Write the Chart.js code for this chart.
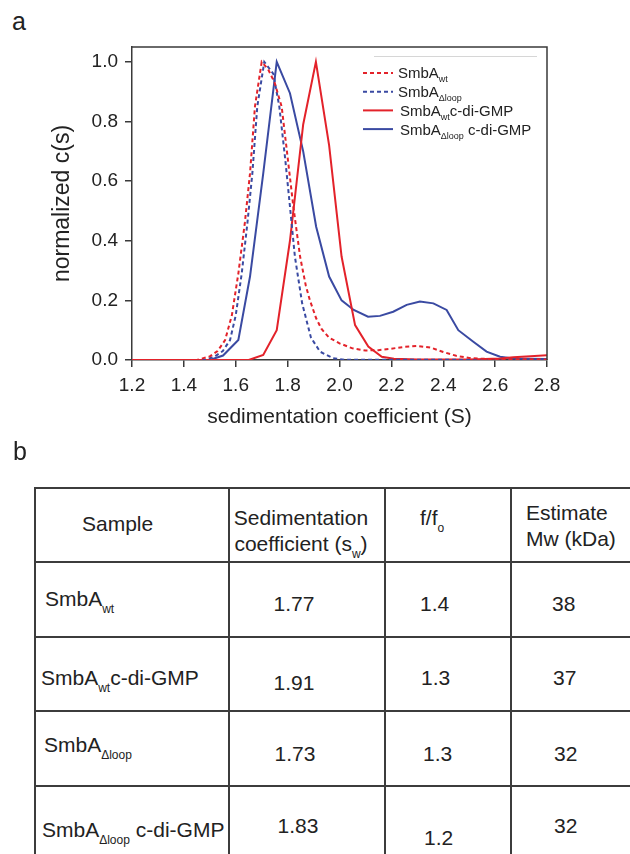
<!DOCTYPE html>
<html lang="en">
<head>
<meta charset="UTF-8">
<title>SmbA sedimentation</title>
<style>
  html, body { margin: 0; padding: 0; background: #fff; }
  body { width: 630px; height: 854px; overflow: hidden; position: relative;
         font-family: "Liberation Sans", Arial, sans-serif; color: #222; }
  #chartBox { position: absolute; left: 0; top: 0; width: 630px; height: 440px; }
  .panel { position: absolute; font-size: 25px; line-height: 25px; }
  table { position: absolute; left: 34px; top: 487px; width: 616px; border-collapse: collapse;
          table-layout: fixed; font-size: 21px; }
  td { border: 2px solid #3c3c3c; padding: 0; vertical-align: middle; white-space: nowrap; }
  td span.t { position: relative; display: inline-block; line-height: 26px; }
  sub { font-size: 12px; vertical-align: -7px; line-height: 0; }
</style>
</head>
<body>
<div class="panel" style="left:12px; top:9px;">a</div>
<div id="chartBox"><canvas id="myChart" width="630" height="440"></canvas></div>
<div class="panel" style="left:13px; top:439px;">b</div>
<table id="tbl"></table>

<script src="https://cdn.jsdelivr.net/npm/chart.js@4.4.1/dist/chart.umd.min.js"></script>
<script>
// ---- data ----
const xTickValues = [1.2, 1.4, 1.6, 1.8, 2.0, 2.2, 2.4, 2.6, 2.8];
const yTickValues = [0, 0.2, 0.4, 0.6, 0.8, 1.0];

// SmbA wt (red dashed)
const wtX = [1.20, 1.45, 1.50, 1.53, 1.559, 1.585, 1.61, 1.635, 1.655, 1.674, 1.70, 1.725, 1.75, 1.777, 1.80, 1.822, 1.848, 1.87, 1.886, 1.91, 1.93, 1.96, 2.00, 2.05, 2.10, 2.15, 2.20, 2.25, 2.30, 2.35, 2.40, 2.45, 2.50, 2.55, 2.60, 2.80];
const wtY = [0, 0, 0.012, 0.03, 0.067, 0.15, 0.29, 0.46, 0.626, 0.85, 1.0, 0.975, 0.93, 0.85, 0.68, 0.515, 0.347, 0.25, 0.20, 0.14, 0.105, 0.075, 0.056, 0.039, 0.032, 0.033, 0.038, 0.044, 0.047, 0.042, 0.027, 0.014, 0.007, 0.004, 0.003, 0.002];

// SmbA delta-loop (blue dashed)
const loopX = [1.20, 1.48, 1.52, 1.55, 1.578, 1.60, 1.623, 1.645, 1.664, 1.683, 1.71, 1.745, 1.768, 1.79, 1.809, 1.828, 1.856, 1.89, 1.925, 1.975, 2.02, 2.80];
const loopY = [0, 0, 0.012, 0.03, 0.067, 0.15, 0.29, 0.46, 0.626, 0.85, 1.0, 0.96, 0.85, 0.68, 0.515, 0.347, 0.19, 0.075, 0.028, 0.006, 0.001, 0];

// SmbA wt + c-di-GMP (red solid)
const wtGmpX = [1.20, 1.65, 1.706, 1.758, 1.809, 1.86, 1.909, 1.96, 2.008, 2.06, 2.111, 2.163, 2.21, 2.30, 2.50, 2.62, 2.67, 2.72, 2.80];
const wtGmpY = [0, 0, 0.017, 0.10, 0.40, 0.79, 1.0, 0.72, 0.347, 0.117, 0.045, 0.011, 0.004, 0.002, 0.002, 0.005, 0.009, 0.012, 0.016];

// SmbA delta-loop + c-di-GMP (blue solid)
const loopGmpX = [1.20, 1.50, 1.551, 1.61, 1.655, 1.706, 1.758, 1.809, 1.86, 1.91, 1.96, 2.008, 2.055, 2.11, 2.156, 2.207, 2.259, 2.31, 2.362, 2.413, 2.458, 2.516, 2.567, 2.619, 2.67, 2.72, 2.80];
const loopGmpY = [0, 0, 0.015, 0.067, 0.28, 0.626, 1.0, 0.895, 0.70, 0.447, 0.28, 0.20, 0.168, 0.145, 0.148, 0.162, 0.185, 0.196, 0.19, 0.168, 0.10, 0.061, 0.028, 0.011, 0.005, 0.004, 0.003];

// legend names: [main, subscript, rest]
const seriesNames = [
  ['SmbA', 'wt', ''],
  ['SmbA', '\u0394loop', ''],
  ['SmbA', 'wt', 'c-di-GMP'],
  ['SmbA', '\u0394loop', ' c-di-GMP']
];

// table b
const tableHeader = ['Sample', 'Sedimentation<br>coefficient (s<sub>w</sub>)', 'f/f<sub>o</sub>', 'Estimate<br>Mw (kDa)'];
const tableSamples = [['SmbA', 'wt', ''], ['SmbA', 'wt', 'c-di-GMP'], ['SmbA', '\u0394loop', ''], ['SmbA', '\u0394loop', ' c-di-GMP']];
const tableSw = ['1.77', '1.91', '1.73', '1.83'];
const tableFf0 = ['1.4', '1.3', '1.3', '1.2'];
const tableMw = ['38', '37', '32', '32'];

// ---- chart ----
const RED = '#e3222a';
const BLUE = '#3a4aa2';
const AXIS = '#3a3a3a';

function pts(xs, ys) {
  return xs.map((x, i) => ({ x: x, y: ys[i] }));
}

const legendPlugin = {
  id: 'subLegend',
  afterDraw(chart) {
    const ctx = chart.ctx;
    const a = chart.chartArea;
    ctx.save();
    // frame top + right
    ctx.strokeStyle = AXIS;
    ctx.lineWidth = 1.5;
    ctx.beginPath();
    ctx.moveTo(a.left, a.top);
    ctx.lineTo(a.right, a.top);
    ctx.lineTo(a.right, a.bottom);
    ctx.stroke();
    // faint rule above legend
    ctx.strokeStyle = '#d6d6d6';
    ctx.lineWidth = 1;
    ctx.beginPath();
    ctx.moveTo(a.right - 173, a.top + 9.5);
    ctx.lineTo(a.right - 10, a.top + 9.5);
    ctx.stroke();

    chart.data.datasets.forEach((ds, i) => {
      const cy = a.top + 26 + i * 18.7;
      const x0 = a.right - 184;
      ctx.strokeStyle = ds.borderColor;
      ctx.lineWidth = 2;
      ctx.setLineDash(ds.borderDash || []);
      ctx.beginPath();
      ctx.moveTo(x0, cy);
      ctx.lineTo(x0 + 30, cy);
      ctx.stroke();
      ctx.setLineDash([]);

      const parts = seriesNames[i];
      let tx = x0 + 35 + (i > 1 ? 2 : 0);
      const base = cy + 5.4;
      ctx.fillStyle = '#222';
      ctx.textBaseline = 'alphabetic';
      ctx.textAlign = 'left';
      ctx.font = '15px "Liberation Sans", Arial, sans-serif';
      ctx.fillText(parts[0], tx, base);
      tx += ctx.measureText(parts[0]).width;
      ctx.font = '9px "Liberation Sans", Arial, sans-serif';
      ctx.fillText(parts[1], tx, base + 4);
      tx += ctx.measureText(parts[1]).width;
      ctx.font = '15px "Liberation Sans", Arial, sans-serif';
      ctx.fillText(parts[2], tx, base);
    });
    ctx.restore();
  }
};

const lineBase = { borderWidth: 2, pointRadius: 0, tension: 0, fill: false };

new Chart(document.getElementById('myChart'), {
  type: 'line',
  data: {
    datasets: [
      Object.assign({ label: 'SmbA wt', data: pts(wtX, wtY), borderColor: RED, borderDash: [4, 3] }, lineBase),
      Object.assign({ label: 'SmbA dloop', data: pts(loopX, loopY), borderColor: BLUE, borderDash: [4, 3] }, lineBase),
      Object.assign({ label: 'SmbA wt c-di-GMP', data: pts(wtGmpX, wtGmpY), borderColor: RED }, lineBase),
      Object.assign({ label: 'SmbA dloop c-di-GMP', data: pts(loopGmpX, loopGmpY), borderColor: BLUE }, lineBase)
    ]
  },
  options: {
    responsive: false,
    animation: false,
    layout: { padding: { top: 47, right: 83, left: 0, bottom: 0 } },
    plugins: { legend: { display: false }, tooltip: { enabled: false } },
    scales: {
      x: {
        type: 'linear',
        min: 1.2,
        max: 2.8,
        afterBuildTicks: (s) => { s.ticks = xTickValues.map(v => ({ value: v })); },
        afterFit: (s) => { s.height = 80; },
        border: { display: true, color: AXIS, width: 1.5 },
        grid: { drawOnChartArea: false, drawTicks: true, tickLength: 7, color: AXIS, lineWidth: 1.5 },
        ticks: {
          autoSkip: false, maxRotation: 0, padding: 7, color: '#222',
          font: { family: '"Liberation Sans", Arial, sans-serif', size: 19 },
          callback: (v) => Number(v).toFixed(1)
        },
        title: {
          display: true, text: 'sedimentation coefficient (S)', color: '#222',
          font: { family: '"Liberation Sans", Arial, sans-serif', size: 21 },
          padding: { top: 0, bottom: 10 }
        }
      },
      y: {
        min: 0,
        max: 1.05,
        afterBuildTicks: (s) => { s.ticks = yTickValues.map(v => ({ value: v })); },
        afterFit: (s) => { s.width = 132; },
        border: { display: true, color: AXIS, width: 1.5 },
        grid: { drawOnChartArea: false, drawTicks: true, tickLength: 7, color: AXIS, lineWidth: 1.5 },
        ticks: {
          padding: 7, color: '#222',
          font: { family: '"Liberation Sans", Arial, sans-serif', size: 19 },
          callback: (v) => Number(v).toFixed(1)
        },
        title: {
          display: true, text: 'normalized c(s)', color: '#222',
          font: { family: '"Liberation Sans", Arial, sans-serif', size: 23 },
          padding: { top: 49, bottom: 0 }
        }
      }
    }
  },
  plugins: [legendPlugin]
});

// ---- table ----
const colWidths = [194, 156, 126, 140];
const rowHeights = [74, 75, 74, 75, 80];
const colAlign = ['left', 'center', 'left', 'left'];
const colPad = [0, 0, 36, 0];
// fine nudges [dx, dy] per cell, to follow the figure's loose placement
const nudges = [
  [[46, -1], [-6, 6], [-2, -7], [14, 1]],
  [[9, -1], [-13, 4], [-2, 4], [40, 4]],
  [[5, 4], [-13, 9], [-1, 4], [41, 4]],
  [[8, -4], [-12, 5], [1, 5], [42, 5]],
  [[6, 4], [-9, 0], [2, 12], [42, 0]]
];

function nameHtml(p) {
  return p[0] + '<sub>' + p[1] + '</sub>' + p[2].replace(' ', '&nbsp;');
}

const tbl = document.getElementById('tbl');
let html = '<colgroup>' + colWidths.map(w => '<col style="width:' + w + 'px">').join('') + '</colgroup>';
const rows = [tableHeader].concat(tableSamples.map((s, i) => [nameHtml(s), tableSw[i], tableFf0[i], tableMw[i]]));
rows.forEach((r, ri) => {
  html += '<tr style="height:' + rowHeights[ri] + 'px">';
  r.forEach((c, ci) => {
    const n = nudges[ri][ci];
    html += '<td style="text-align:' + colAlign[ci] + ';padding-left:' + colPad[ci] + 'px">' +
      '<span class="t" style="left:' + n[0] + 'px;top:' + n[1] + 'px">' + c + '</span></td>';
  });
  html += '</tr>';
});
tbl.innerHTML = html;
</script>
</body>
</html>
